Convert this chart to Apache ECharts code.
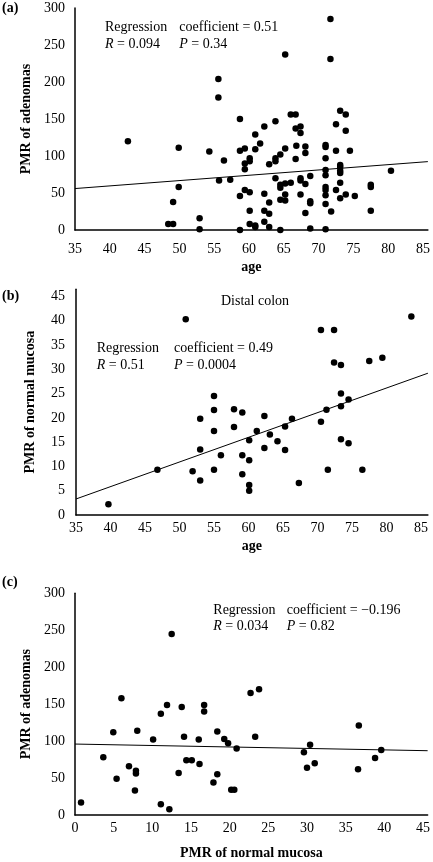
<!DOCTYPE html>
<html><head><meta charset="utf-8">
<script src="https://cdn.jsdelivr.net/npm/echarts@6/dist/echarts.min.js"></script>
<style>html,body{margin:0;padding:0;background:#fff}#c{width:433px;height:862px}</style>
</head><body><div id="c"></div>
<script>
// Panel (a): age vs PMR of adenomas
var ageA = [71.7,65.2,71.7,55.6,55.6,58.7,60.9,62.2,63.8,66,66.7,66.7,67.4,67.4,72.5,73.1,73.9,73.9,42.6,
  49.9,54.3,56.4,58.7,59.4,59.4,59.4,60.1,60.1,60.9,61.6,62.9,63.8,63.8,64.5,65.2,66.7,66.8,68.1,68.1,71.0,71.0,71.0,71.0,72.5,73.1,73.1,73.1,73.1,74.5,80.4,
  55.7,57.3,49.9,49.1,48.4,49.1,52.9,52.9,58.7,59.4,60.1,60.1,58.7,60.1,60.9,60.9,62.2,62.2,62.2,62.9,62.9,62.9,63.8,64.5,64.5,64.5,64.5,65.2,66,65.2,65.2,67.4,67.4,67.4,68.1,68.1,68.8,68.8,68.8,68.8,71.0,71.0,71.0,71.0,71.0,71.0,71.8,72.5,73.1,73.1,73.9,75.2,77.5,77.5,77.5];
var pmrA = [285,237,231,204,179,150,129,140,147,156,156,137,140,131,143,161,156,134,120,
  111,106,94,107,110,90,82,97,93,109,117,89,97,93,102,110,96,114,113,104,115,112,97,81,107,88,85,80,77,107,80,
  67,68,58,38,8,8,16,1,46,54,51,26,0,8,6,4,49,26,11,37,22,4,70,61,57,41,0,63,64,48,40,70,67,48,62,23,73,39,36,2,74,58,54,47,35,1,25,54,64,43,48,46,61,58,26];
var regXA = [35, 85.7], regYA = [56, 92.4];

// Panel (b): age vs PMR of normal mucosa (distal colon)
var ageB = [50.9,83.6,70.5,72.4,72.4,73.4,77.5,79.4,55,55,53,57.9,59.1,62.3,73.4,74.5,73.4,71.3,70.5,66.3,65.3,55,57.9,61.2,63.1,64.2,60.1,73.4,74.5,53,62.3,65.3,56,59.1,60.1,46.8,51.9,55,59.1,53,60.1,60.1,67.3,71.5,76.5,39.7];
var pmrB = [40.3,40.9,38.1,38.1,31.4,30.9,31.7,32.4,24.5,21.6,19.8,21.8,21.1,20.4,25,23.8,22.4,21.7,19.2,19.8,18.2,17.3,18.1,17.3,16.6,15.2,15.4,15.6,14.8,13.5,13.8,13.4,12.3,12.3,11.3,9.3,9,9.3,8.4,7.1,6.2,5,6.6,9.3,9.3,2.2];
var regXB = [35, 86], regYB = [3.3, 29.2];

// Panel (c): PMR of normal mucosa vs PMR of adenomas
var mucC = [12.5,6.0,22.7,23.8,11.9,13.8,16.7,16.7,11.1,4.95,8.05,14.1,18.4,23.3,36.7,10.1,16.0,19.3,19.8,20.9,30.4,29.6,39.6,38.8,31.0,30.0,36.6,3.66,6.98,7.88,7.88,5.38,7.75,14.4,15.1,16.1,13.4,18.4,17.9,20.2,20.6,0.78,11.1,12.2];
var adeC = [245,158,165,170,149,146,149,140,137,112,114,106,113,106,121,102,102,103,97,90,95,85,88,77,70,64,62,78,66,60,56,49,33,74,74,69,57,55,44,34,34,17,14.5,7.7];
var regXC = [0, 45.6], regYC = [96, 87];

function pairs(xs, ys){ return xs.map(function(x,i){ return [x, ys[i]]; }); }

var SERIF = '"Liberation Serif", "DejaVu Serif", serif';
var lbl = {color:'#000', fontFamily:SERIF, fontSize:14};
var nameSt = {color:'#000', fontFamily:SERIF, fontSize:14, fontWeight:'bold'};
var axLine = {show:true, lineStyle:{color:'#000', width:1.5}};

function xAx(idx, min, max, name, margin, gap){
  return {type:'value', gridIndex:idx, min:min, max:max, interval:5,
    axisLine:axLine, axisTick:{show:false}, splitLine:{show:false},
    axisLabel:Object.assign({margin:margin, showMaxLabel:false}, lbl),
    name:name, nameLocation:'middle', nameGap:gap, nameTextStyle:nameSt};
}
function yAx(idx, min, max, interval, name, margin, gap, hideMax){
  return {type:'value', gridIndex:idx, min:min, max:max, interval:interval,
    axisLine:axLine, axisTick:{show:false}, splitLine:{show:false},
    axisLabel:Object.assign({margin:margin, showMaxLabel:!hideMax}, lbl),
    name:name, nameLocation:'middle', nameGap:gap, nameTextStyle:nameSt};
}
function scat(i, data){
  return {type:'scatter', xAxisIndex:i, yAxisIndex:i, data:data, symbol:'circle', symbolSize:6.5,
    itemStyle:{color:'#000', opacity:1}, silent:true};
}
function reg(i, data){
  return {type:'line', xAxisIndex:i, yAxisIndex:i, data:data, symbol:'none',
    lineStyle:{color:'#000', width:1}, silent:true};
}
function txt(x, y, s, bold, align){
  return {type:'text', x:x, y:y, style:{text:s, fill:'#000', font:(bold?'bold ':'')+'14px '+SERIF,
    textVerticalAlign:'middle', textAlign:align||'left',
    rich:{i:{fontStyle:'italic', fontFamily:SERIF, fontSize:14, fill:'#000'}, n:{fontFamily:SERIF, fontSize:14, fill:'#000'}}}};
}

var chart = echarts.init(document.getElementById('c'), null, {renderer:'canvas'});
chart.setOption({
  backgroundColor:'#fff',
  animation:false,
  grid:[
    {left:75, top:8, width:355, height:222},
    {left:76, top:289.2, width:351.9, height:225.8},
    {left:75, top:593.3, width:352.9, height:221.7}
  ],
  xAxis:[
    xAx(0, 35, 85.7, 'age', 12, 30),
    xAx(1, 35, 86, 'age', 6, 24),
    xAx(2, 0, 45.6, 'PMR of normal mucosa', 6, 31)
  ],
  yAxis:[
    yAx(0, 0, 300, 50, 'PMR of adenomas', 10, 40, false),
    yAx(1, 0, 46.5, 5, 'PMR of normal mucosa', 11, 39, true),
    yAx(2, 0, 300, 50, 'PMR of adenomas', 10, 40, false)
  ],
  series:[
    scat(0, pairs(ageA, pmrA)), reg(0, pairs(regXA, regYA)),
    scat(1, pairs(ageB, pmrB)), reg(1, pairs(regXB, regYB)),
    scat(2, pairs(mucC, adeC)), reg(2, pairs(regXC, regYC))
  ],
  graphic:[
    txt(2, 8.5, '(a)', true),
    txt(105, 27.7, 'Regression'), txt(179.3, 27.7, 'coefficient = 0.51'),
    txt(105, 44.3, '{i|R} = 0.094'), txt(179.3, 44.3, '{i|P} = 0.34'),
    txt(2, 296.7, '(b)', true),
    txt(255, 301.7, 'Distal colon', false, 'center'),
    txt(96.7, 348.3, 'Regression'), txt(174, 348.3, 'coefficient = 0.49'),
    txt(96.7, 365, '{i|R} = 0.51'), txt(174, 365, '{i|P} = 0.0004'),
    txt(2, 582, '(c)', true),
    txt(213.3, 610.7, 'Regression'), txt(286.7, 610.7, 'coefficient = \u22120.196'),
    txt(213.3, 626.7, '{i|R} = 0.034'), txt(286.7, 626.7, '{i|P} = 0.82')
  ]
});
</script></body></html>
